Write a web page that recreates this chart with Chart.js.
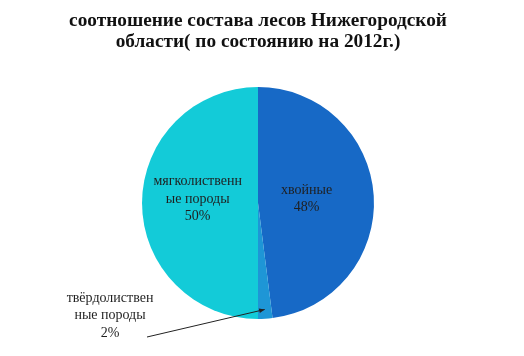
<!DOCTYPE html>
<html>
<head>
<meta charset="utf-8">
<script src="https://cdn.jsdelivr.net/npm/chart.js@4"></script>
<style>
  html, body { margin: 0; padding: 0; background: #fff; }
  #wrap { width: 524px; height: 356px; }
</style>
</head>
<body>
<div id="wrap"><canvas id="chart" width="524" height="356"></canvas></div>
<script>
// Данные диаграммы
const titleLines = ['соотношение состава лесов Нижегородской', 'области( по состоянию на 2012г.)'];
const categories = [['хвойные'], ['твёрдолиствен', 'ные породы'], ['мягколиственн', 'ые породы']];
const shares = [48, 2, 50];
const sliceColors = ['#1769C6', '#1E96D6', '#13CBD8'];

// где ставить подписи: доля радиуса по средней линии сектора, либо снаружи со стрелкой
const labelPos = [
    { r: 0.42, dy: -1 },
    { outside: true, x: 110, y: 298, tip: 0.92, tail: [147, 337] },
    { r: 0.52, dy: -4 }
];

const labelPlugin = {
    id: 'sliceLabels',
    afterDatasetsDraw(chart) {
        const ctx = chart.ctx;
        const meta = chart.getDatasetMeta(0);
        ctx.save();
        ctx.font = '14px "Liberation Serif", serif';
        ctx.textAlign = 'center';
        ctx.textBaseline = 'middle';
        const lh = 17.5;
        meta.data.forEach((arc, i) => {
            const p = arc.getProps(['x', 'y', 'startAngle', 'endAngle', 'outerRadius'], true);
            const mid = (p.startAngle + p.endAngle) / 2;
            const lines = categories[i].concat([shares[i] + '%']);
            const cfg = labelPos[i];
            let cx, cy;
            if (cfg.outside) {
                cx = cfg.x; cy = cfg.y;
                // стрелка к маленькому сектору
                const tx = p.x + Math.cos(mid) * p.outerRadius * cfg.tip;
                const ty = p.y + Math.sin(mid) * p.outerRadius * cfg.tip;
                const [sx, sy] = cfg.tail;
                ctx.strokeStyle = '#222';
                ctx.fillStyle = '#222';
                ctx.lineWidth = 1;
                ctx.beginPath();
                ctx.moveTo(sx, sy);
                ctx.lineTo(tx, ty);
                ctx.stroke();
                const a = Math.atan2(ty - sy, tx - sx);
                ctx.beginPath();
                ctx.moveTo(tx, ty);
                ctx.lineTo(tx - 6 * Math.cos(a - 0.4), ty - 6 * Math.sin(a - 0.4));
                ctx.lineTo(tx - 6 * Math.cos(a + 0.4), ty - 6 * Math.sin(a + 0.4));
                ctx.closePath();
                ctx.fill();
            } else {
                cx = p.x + Math.cos(mid) * p.outerRadius * cfg.r;
                cy = p.y + Math.sin(mid) * p.outerRadius * cfg.r + cfg.dy;
                cy -= (lines.length - 1) * lh / 2;
            }
            ctx.fillStyle = '#1f1f1f';
            lines.forEach((t, k) => ctx.fillText(t, cx, cy + k * lh));
        });
        ctx.restore();
    }
};

new Chart(document.getElementById('chart'), {
    type: 'pie',
    data: {
        labels: categories.map(c => c.join('')),
        datasets: [{
            data: shares,
            backgroundColor: sliceColors,
            borderWidth: 0
        }]
    },
    options: {
        responsive: false,
        animation: false,
        layout: { padding: { left: 0, right: 8, top: 0, bottom: 37 } },
        plugins: {
            legend: { display: false },
            tooltip: { enabled: false },
            title: {
                display: true,
                text: titleLines,
                color: '#111',
                font: { family: '"Liberation Serif", serif', size: 19.3, weight: 'bold', lineHeight: 1.1 },
                padding: { top: 10, bottom: 34.6 }
            }
        }
    },
    plugins: [labelPlugin]
});
</script>
</body>
</html>
